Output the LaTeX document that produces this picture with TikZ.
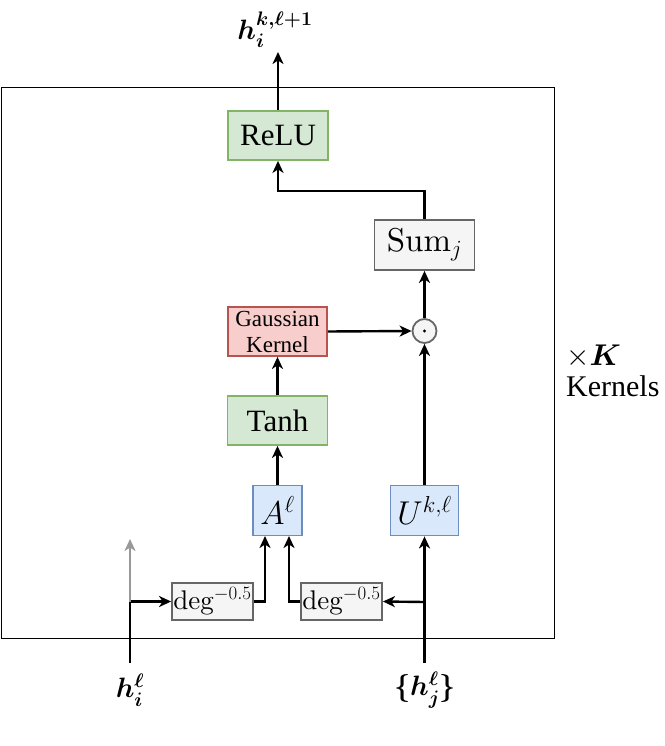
\RequirePackage{fix-cm}
\documentclass[tikz,border=0pt]{standalone}
\usepackage{amsmath,amssymb}
\usepackage{fontspec}
\setmainfont{lmroman10-regular.otf}[BoldFont=lmroman10-bold.otf, ItalicFont=lmroman10-italic.otf]
\newfontfamily\timesf{Liberation Serif}
\usetikzlibrary{arrows.meta}
\definecolor{gfill}{HTML}{D5E8D4}\definecolor{gdraw}{HTML}{82B366}
\definecolor{rfill}{HTML}{F8CECC}\definecolor{rdraw}{HTML}{B85450}
\definecolor{bfill}{HTML}{DAE8FC}\definecolor{bdraw}{HTML}{6C8EBF}
\definecolor{nfill}{HTML}{F5F5F5}\definecolor{ndraw}{HTML}{666666}
\definecolor{garrow}{HTML}{999999}
\tikzset{
  box/.style={draw, line width=1.8pt, inner sep=0pt, minimum width=#1},
  greenbox/.style={box=100pt, minimum height=49pt, fill=gfill, draw=gdraw, font=\timesf\fontsize{31}{33}\selectfont},
  redbox/.style={box=99pt, minimum height=49pt, fill=rfill, draw=rdraw, font=\timesf\fontsize{23}{26}\selectfont, align=center},
  bluebox/.style={box=#1, minimum height=50pt, fill=bfill, draw=bdraw, font=\fontsize{33}{36}\selectfont},
  graybox/.style={box=#1, fill=nfill, draw=ndraw},
  conn/.style={line width=2.4pt, -{Stealth[length=12pt,width=11pt,inset=3.5pt]}},
  lbl/.style={inner sep=0pt, font=\fontsize{28}{31}\selectfont},
  side/.style={inner sep=0pt, anchor=base west, font=\timesf\fontsize{30}{33}\selectfont},
}
\begin{document}
\begin{tikzpicture}[x=1pt,y=-1pt]
\useasboundingbox (0,0) rectangle (664,746);
\node[draw, line width=1pt, minimum width=553pt, minimum height=551pt, inner sep=0pt, anchor=north west] (outer) at (1,87) {};
\node[greenbox] (relu) at (278,135.5) {ReLU};
\node[graybox=100pt, minimum height=50pt, font=\fontsize{33}{36}\selectfont] (sum) at (424.5,245) {Sum$_j$};
\node[redbox] (gauss) at (277.5,331.5) {Gaussian\\Kernel};
\node[draw=ndraw, fill=nfill, line width=1.8pt, circle, minimum size=24pt, inner sep=0pt] (odot) at (424.5,331) {};
\fill (odot.center) circle (1.6pt);
\node[greenbox] (tanh) at (277.5,420.5) {Tanh};
\node[bluebox=49pt] (A) at (277.5,510.5) {$A^{\ell}$};
\node[bluebox=68pt] (U) at (424.5,510.5) {$U^{k,\ell}$};
\node[graybox=81pt, minimum height=37pt, font=\fontsize{27}{30}\selectfont] (degl) at (212.5,601.5) {deg$^{-0.5}$};
\node[graybox=81pt, minimum height=37pt, font=\fontsize{27}{30}\selectfont] (degr) at (341.5,601.5) {deg$^{-0.5}$};
\node[lbl] (hout) at (275,30) {$\boldsymbol{h_i^{k,\ell+1}}$};
\node[lbl] (hi) at (130,690) {$\boldsymbol{h_i^{\ell}}$};
\node[lbl] (hj) at (425,690) {$\boldsymbol{\{h_j^{\ell}\}}$};
\node[side] (timesk) at (566,365) {$\times\boldsymbol{K}$};
\node[side] (kern) at (566,396) {Kernels};
\coordinate (hiTop) at (130,663);
\coordinate (hjTop) at (424.5,663);
\coordinate (grayTip) at (130,539);
% connectors
\draw[conn] (relu.north) -- (278,52);
\draw[conn] (sum.north) |- (278,191) -- (relu.south);
\draw[conn] (odot.north) -- (sum.south);
\draw[conn] (gauss.east) -- (odot.west);
\draw[conn] (tanh.north) -- (gauss.south);
\draw[conn] (A.north) -- (tanh.south);
\draw[conn] (U.north) -- (odot.south);
\draw[conn] (hiTop) |- (degl.west);
\draw[conn, draw=garrow, fill=garrow] (130,602) -- (grayTip);
\draw[conn] (degl.east) -| (265,536);
\draw[conn] (degr.west) -| (289,536);
\draw[conn] (hjTop) -- (U.south);
\draw[conn] (424.5,602) -- (degr.east);
\end{tikzpicture}
\end{document}
